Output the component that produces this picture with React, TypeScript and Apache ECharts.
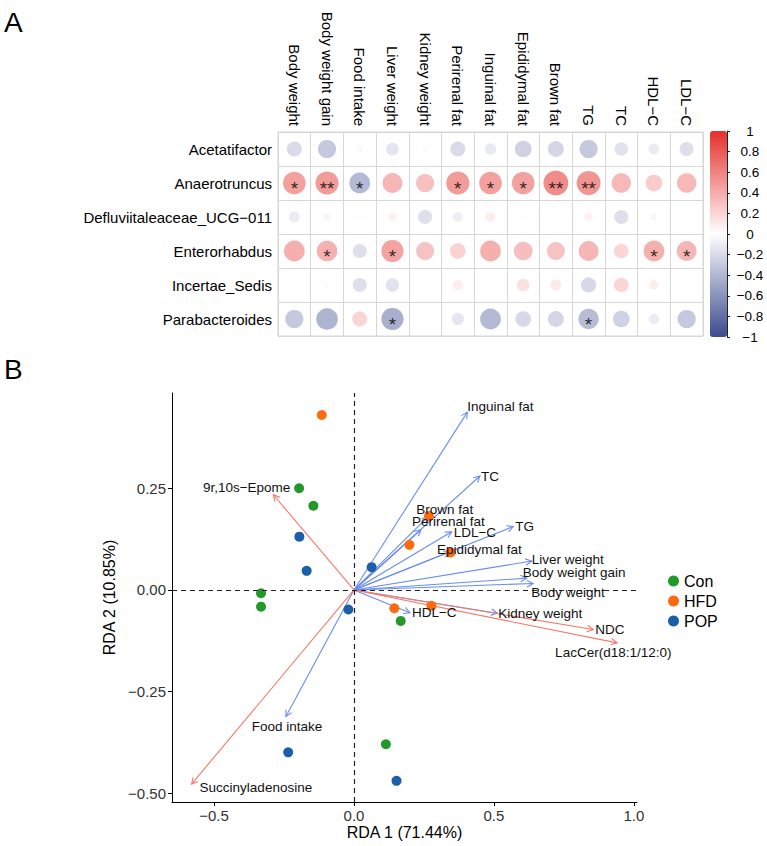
import React, { useEffect, useRef } from 'react';
import * as echarts from 'echarts';

const FONT = '"Liberation Sans", Arial, Helvetica, sans-serif';

// ---------- Panel A: genus × phenotype correlations ----------
const GENERA = [
  'Acetatifactor',
  'Anaerotruncus',
  'Defluviitaleaceae_UCG−011',
  'Enterorhabdus',
  'Incertae_Sedis',
  'Parabacteroides',
];
const TRAITS = [
  'Body weight', 'Body weight gain', 'Food intake', 'Liver weight', 'Kidney weight',
  'Perirenal fat', 'Inguinal fat', 'Epididymal fat', 'Brown fat', 'TG', 'TC', 'HDL−C', 'LDL−C',
];
const R_ACETATIFACTOR = [-0.25, -0.37, 0.05, -0.18, 0.03, -0.25, -0.15, -0.31, -0.28, -0.37, -0.2, -0.13, -0.22];
const R_ANAEROTRUNCUS = [0.57, 0.6, -0.48, 0.44, 0.37, 0.6, 0.57, 0.57, 0.69, 0.64, 0.42, 0.31, 0.42];
const R_DEFLUVIITALEACEAE = [-0.13, -0.06, 0.03, 0.08, -0.22, -0.11, 0.11, 0.03, 0.01, 0.08, -0.22, -0.05, 0.005];
const R_ENTERORHABDUS = [0.48, 0.47, -0.22, 0.55, 0.36, 0.27, 0.48, 0.39, 0.36, 0.44, 0.24, 0.48, 0.44];
const R_INCERTAE_SEDIS = [0.01, -0.03, -0.22, -0.2, 0.01, 0.11, 0.01, 0.18, 0.13, -0.26, 0.24, 0.1, 0.005];
const R_PARABACTEROIDES = [-0.37, -0.52, 0.25, -0.55, 0.003, -0.17, -0.48, -0.27, -0.28, -0.46, -0.31, -0.12, -0.37];

const SIG_ACETATIFACTOR = ['', '', '', '', '', '', '', '', '', '', '', '', ''];
const SIG_ANAEROTRUNCUS = ['*', '**', '*', '', '', '*', '*', '*', '**', '**', '', '', ''];
const SIG_DEFLUVIITALEACEAE = ['', '', '', '', '', '', '', '', '', '', '', '', ''];
const SIG_ENTERORHABDUS = ['', '*', '', '*', '', '', '', '', '', '', '', '*', '*'];
const SIG_INCERTAE_SEDIS = ['', '', '', '', '', '', '', '', '', '', '', '', ''];
const SIG_PARABACTEROIDES = ['', '', '', '*', '', '', '', '', '', '*', '', '', ''];

const CORR_ROWS = [R_ACETATIFACTOR, R_ANAEROTRUNCUS, R_DEFLUVIITALEACEAE, R_ENTERORHABDUS, R_INCERTAE_SEDIS, R_PARABACTEROIDES];
const SIG_ROWS = [SIG_ACETATIFACTOR, SIG_ANAEROTRUNCUS, SIG_DEFLUVIITALEACEAE, SIG_ENTERORHABDUS, SIG_INCERTAE_SEDIS, SIG_PARABACTEROIDES];

// ---------- Panel B: RDA biplot ----------
const RDA1_TITLE = 'RDA 1 (71.44%)';
const RDA2_TITLE = 'RDA 2 (10.85%)';
const X_TICKS = [-0.5, 0, 0.5, 1.0];
const Y_TICKS = [-0.5, -0.25, 0, 0.25];

const CON_RDA1 = [-0.196, -0.145, -0.332, -0.332, 0.167, 0.114];
const CON_RDA2 = [0.25, 0.207, -0.008, -0.041, -0.076, -0.379];
const HFD_RDA1 = [-0.115, 0.268, 0.198, 0.345, 0.144, 0.277];
const HFD_RDA2 = [0.43, 0.182, 0.111, 0.092, -0.045, -0.039];
const POP_RDA1 = [-0.195, -0.169, 0.063, -0.02, -0.235, 0.152];
const POP_RDA2 = [0.131, 0.047, 0.056, -0.048, -0.399, -0.469];

const ENV_VARS = TRAITS;
const ENV_RDA1 = [0.64, 0.617, -0.243, 0.635, 0.512, 0.239, 0.405, 0.343, 0.265, 0.569, 0.45, 0.2, 0.349];
const ENV_RDA2 = [0.016, 0.029, -0.311, 0.071, -0.057, 0.148, 0.437, 0.094, 0.18, 0.156, 0.28, -0.056, 0.143];

const METABOLITES = ['NDC', 'LacCer(d18:1/12:0)', '9r,10s−Epome', 'Succinyladenosine'];
const MET_RDA1 = [0.855, 0.94, -0.288, -0.58];
const MET_RDA2 = [-0.097, -0.13, 0.234, -0.477];

// visual styling
const COLD = '#3B4A8E';
const HOT = '#E4302C';
const GRID_LINE = '#D6D6D6';
const GROUP_COLORS = { Con: '#23992A', HFD: '#FF6A0E', POP: '#1A5FA8' };
const ENV_ARROW = '#6A8DEE';
const MET_ARROW = '#F4796A';

// text placement of each biplot label relative to its arrow tip (dx, dy, align)
const LABEL_PLACEMENT: Record<string, [number, number, string]> = {
  'Body weight': [-2, 9, 'left'],
  'Body weight gain': [-4, -6, 'left'],
  'Food intake': [1, 10, 'center'],
  'Liver weight': [0, -2, 'left'],
  'Kidney weight': [1, 0, 'left'],
  'Perirenal fat': [-9, -8, 'left'],
  'Inguinal fat': [0, -6, 'left'],
  'Epididymal fat': [-13, -2, 'left'],
  'Brown fat': [-12, -7, 'left'],
  'TG': [2, 0, 'left'],
  'TC': [1, 0, 'left'],
  'HDL−C': [2, 0, 'left'],
  'LDL−C': [2, 1, 'left'],
  'NDC': [2, 0, 'left'],
  'LacCer(d18:1/12:0)': [-62, 10, 'left'],
  '9r,10s−Epome': [17, -7, 'right'],
  'Succinyladenosine': [8, 3, 'left'],
};

const fmtMinus = (s: string) => s.replace('-', '−');

function buildOption() {
  const cells: number[][] = [];
  const cellSig: string[] = [];
  CORR_ROWS.forEach((row, r) => {
    row.forEach((v, c) => {
      cells.push([c, r, v]);
      cellSig.push(SIG_ROWS[r][c]);
    });
  });

  const arrows = [
    ...ENV_VARS.map((name, i) => ({ name, x: ENV_RDA1[i], y: ENV_RDA2[i], color: ENV_ARROW })),
    ...METABOLITES.map((name, i) => ({ name, x: MET_RDA1[i], y: MET_RDA2[i], color: MET_ARROW })),
  ];
  const arrowData = arrows.map((a) => [a.x, a.y]);

  const pts = (xs: number[], ys: number[]) => xs.map((x, i) => [x, ys[i]]);

  const groupSeries = (name: 'Con' | 'HFD' | 'POP', xs: number[], ys: number[]) => ({
    type: 'scatter',
    name,
    xAxisIndex: 1,
    yAxisIndex: 1,
    data: pts(xs, ys),
    symbol: 'circle',
    symbolSize: 10,
    itemStyle: { color: GROUP_COLORS[name], opacity: 1 },
    z: 3,
  });

  return {
    animation: false,
    textStyle: { fontFamily: FONT },
    grid: [
      { left: 278, top: 132, width: 425, height: 204, show: true, borderColor: GRID_LINE, borderWidth: 1, outerBoundsMode: 'none' },
      { left: 172, top: 393, width: 465, height: 409, outerBoundsMode: 'none' },
      { left: 710, top: 131, width: 17, height: 206, outerBoundsMode: 'none' },
    ],
    xAxis: [
      {
        gridIndex: 0,
        type: 'category',
        data: TRAITS,
        position: 'top',
        axisLine: { show: false },
        axisTick: { show: false },
        splitLine: { show: true, interval: 0, lineStyle: { color: GRID_LINE, width: 1 } },
        axisLabel: { rotate: 90, interval: 0, fontSize: 15, color: '#000', margin: 6, fontFamily: FONT },
      },
      {
        gridIndex: 1,
        type: 'value',
        min: -0.65,
        max: 1.011,
        name: RDA1_TITLE,
        nameLocation: 'middle',
        nameGap: 22,
        nameTextStyle: { fontSize: 16, color: '#000', fontFamily: FONT },
        splitLine: { show: false },
        axisLine: { show: true, onZero: false, lineStyle: { color: '#000', width: 1 } },
        axisTick: { show: true, length: 4, customValues: X_TICKS, lineStyle: { color: '#000' } },
        axisLabel: {
          customValues: X_TICKS,
          fontSize: 15,
          color: '#333',
          margin: 6,
          fontFamily: FONT,
          formatter: (v: number) => fmtMinus(v.toFixed(1)),
        },
      },
      { gridIndex: 2, type: 'category', data: [''], show: false },
    ],
    yAxis: [
      {
        gridIndex: 0,
        type: 'category',
        data: GENERA,
        inverse: true,
        axisLine: { show: false },
        axisTick: { show: false },
        splitLine: { show: true, interval: 0, lineStyle: { color: GRID_LINE, width: 1 } },
        axisLabel: { interval: 0, fontSize: 15, color: '#000', margin: 6, fontFamily: FONT },
      },
      {
        gridIndex: 1,
        type: 'value',
        min: -0.521,
        max: 0.484,
        name: RDA2_TITLE,
        nameLocation: 'middle',
        nameGap: 47,
        nameTextStyle: { fontSize: 16, color: '#000', fontFamily: FONT },
        splitLine: { show: false },
        axisLine: { show: true, onZero: false, lineStyle: { color: '#000', width: 1 } },
        axisTick: { show: true, length: 4, customValues: Y_TICKS, lineStyle: { color: '#000' } },
        axisLabel: {
          customValues: Y_TICKS,
          fontSize: 15,
          color: '#333',
          margin: 6,
          fontFamily: FONT,
          formatter: (v: number) => fmtMinus(v.toFixed(2)),
        },
      },
      {
        gridIndex: 2,
        type: 'value',
        min: -1,
        max: 1,
        interval: 0.2,
        position: 'right',
        splitLine: { show: false },
        axisLine: { show: true, lineStyle: { color: '#222', width: 1 } },
        axisTick: { show: true, length: 3, lineStyle: { color: '#222' } },
        axisLabel: {
          fontSize: 13.5,
          color: '#000',
          margin: 23,
          align: 'center',
          fontFamily: FONT,
          formatter: (v: number) => fmtMinus(String(Math.round(v * 10) / 10)),
        },
      },
    ],
    visualMap: {
      type: 'continuous',
      min: -1,
      max: 1,
      dimension: 2,
      seriesIndex: 0,
      calculable: false,
      hoverLink: false,
      left: 710,
      top: 131,
      itemWidth: 17,
      itemHeight: 206,
      padding: 0,
      inRange: { color: [COLD, '#FFFFFF', HOT] },
    },
    legend: {
      data: ['Con', 'HFD', 'POP'],
      orient: 'vertical',
      left: 668,
      top: 573,
      padding: 0,
      itemWidth: 11,
      itemHeight: 11,
      itemGap: 4,
      icon: 'circle',
      textStyle: { fontSize: 16, color: '#000', fontFamily: FONT },
    },
    graphic: [
      { type: 'text', x: 4, y: 22, style: { text: 'A', fontSize: 28, fill: '#000', fontFamily: FONT, verticalAlign: 'middle' } },
      { type: 'text', x: 4, y: 369, style: { text: 'B', fontSize: 28, fill: '#000', fontFamily: FONT, verticalAlign: 'middle' } },
    ],
    series: [
      {
        type: 'scatter',
        xAxisIndex: 0,
        yAxisIndex: 0,
        data: cells,
        symbol: 'circle',
        symbolSize: (val: number[]) => Math.sqrt(Math.abs(val[2])) * 30,
        label: {
          show: true,
          position: 'inside',
          offset: [0, 5],
          fontSize: 19,
          color: '#000',
          fontFamily: FONT,
          formatter: (p: any) => cellSig[p.dataIndex],
        },
        z: 2,
      },
      {
        type: 'line',
        xAxisIndex: 1,
        yAxisIndex: 1,
        data: [],
        silent: true,
        markLine: {
          silent: true,
          symbol: 'none',
          label: { show: false },
          lineStyle: { type: [5, 4], color: '#222', width: 1.2 },
          data: [{ xAxis: 0 }, { yAxis: 0 }],
        },
        z: 1,
      },
      {
        type: 'custom',
        xAxisIndex: 1,
        yAxisIndex: 1,
        data: arrowData,
        clip: false,
        silent: true,
        z: 2,
        renderItem: (params: any, api: any) => {
          const a = arrows[params.dataIndex];
          const o = api.coord([0, 0]);
          const t = api.coord([api.value(0), api.value(1)]);
          const ang = Math.atan2(t[1] - o[1], t[0] - o[0]);
          const L = 7;
          const A = Math.PI / 6.5;
          const p1 = [t[0] - L * Math.cos(ang - A), t[1] - L * Math.sin(ang - A)];
          const p2 = [t[0] - L * Math.cos(ang + A), t[1] - L * Math.sin(ang + A)];
          return {
            type: 'group',
            children: [
              { type: 'line', shape: { x1: o[0], y1: o[1], x2: t[0], y2: t[1] }, style: { stroke: a.color, lineWidth: 1.1 } },
              { type: 'polyline', shape: { points: [p1, t, p2] }, style: { stroke: a.color, fill: null, lineWidth: 1.1 } },
            ],
          };
        },
      },
      groupSeries('Con', CON_RDA1, CON_RDA2),
      groupSeries('HFD', HFD_RDA1, HFD_RDA2),
      groupSeries('POP', POP_RDA1, POP_RDA2),
      {
        type: 'custom',
        xAxisIndex: 1,
        yAxisIndex: 1,
        data: arrowData,
        clip: false,
        silent: true,
        z: 4,
        renderItem: (params: any, api: any) => {
          const a = arrows[params.dataIndex];
          const t = api.coord([api.value(0), api.value(1)]);
          const [dx, dy, align] = LABEL_PLACEMENT[a.name] || [2, 0, 'left'];
          return {
            type: 'text',
            x: t[0] + dx,
            y: t[1] + dy,
            style: {
              text: a.name,
              fill: '#111',
              fontSize: 13.5,
              fontFamily: FONT,
              align,
              verticalAlign: 'middle',
            },
          };
        },
      },
    ],
  };
}

export default function App() {
  const ref = useRef<HTMLDivElement>(null);
  useEffect(() => {
    if (!ref.current) return;
    const chart = echarts.init(ref.current, null, { renderer: 'svg' });
    chart.setOption(buildOption() as any);
    return () => chart.dispose();
  }, []);
  return (
    <div
      ref={ref}
      style={{ position: 'absolute', left: 0, top: 0, width: 767, height: 846, background: '#fff' }}
    />
  );
}
